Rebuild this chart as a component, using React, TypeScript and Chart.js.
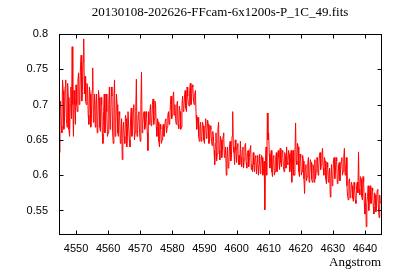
import React, { useEffect, useRef } from "react";
import { Chart, registerables } from "chart.js";

Chart.register(...registerables);

const titleText = "20130108-202626-FFcam-6x1200s-P_1C_49.fits";
const xLabel = "Angstrom";

// wavelength sampling of the spectrum (Angstrom)
const waveStart = 4544.8;
const waveStep = 0.2;

// normalised flux at even samples
const fluxEven: number[] = [
  0.632, 0.705, 0.66, 0.72, 0.675, 0.735, 0.668, 0.71, 0.655, 0.725,
  0.782, 0.655, 0.70, 0.728, 0.69, 0.745, 0.715, 0.77, 0.72, 0.793,
  0.74, 0.70, 0.725, 0.672, 0.715, 0.68, 0.752, 0.69, 0.668, 0.715,
  0.675, 0.71, 0.662, 0.70, 0.645, 0.715, 0.67, 0.69, 0.66, 0.725,
  0.68, 0.712, 0.645, 0.735, 0.67, 0.70, 0.655, 0.685, 0.652, 0.622,
  0.675, 0.645, 0.68, 0.655, 0.69, 0.64, 0.695, 0.662, 0.70, 0.66,
  0.736, 0.665, 0.69, 0.648, 0.746, 0.672, 0.69, 0.668, 0.682, 0.635,
  0.672, 0.70, 0.675, 0.708, 0.68, 0.698, 0.655, 0.675, 0.64, 0.665,
  0.65, 0.672, 0.662, 0.68, 0.668, 0.69, 0.678, 0.712, 0.685, 0.718,
  0.70, 0.672, 0.705, 0.666, 0.69, 0.668, 0.712, 0.695, 0.72, 0.69,
  0.712, 0.698, 0.73, 0.705, 0.725, 0.70, 0.72, 0.665, 0.682, 0.648,
  0.675, 0.655, 0.67, 0.645, 0.68, 0.66, 0.672, 0.648, 0.665, 0.642,
  0.655, 0.615, 0.66, 0.63, 0.675, 0.622, 0.65, 0.635, 0.66, 0.628,
  0.60, 0.64, 0.615, 0.648, 0.625, 0.69, 0.632, 0.65, 0.618, 0.645,
  0.628, 0.648, 0.612, 0.64, 0.622, 0.645, 0.61, 0.635, 0.625, 0.642,
  0.615, 0.632, 0.605, 0.628, 0.618, 0.60, 0.63, 0.61, 0.625, 0.605,
  0.551, 0.64, 0.688, 0.66, 0.61, 0.635, 0.598, 0.628, 0.605, 0.632,
  0.61, 0.625, 0.638, 0.612, 0.632, 0.605, 0.628, 0.64, 0.615, 0.63,
  0.62, 0.59, 0.635, 0.60, 0.674, 0.615, 0.64, 0.598, 0.625, 0.605,
  0.62, 0.574, 0.615, 0.598, 0.625, 0.60, 0.618, 0.59, 0.612, 0.622,
  0.605, 0.625, 0.61, 0.632, 0.615, 0.638, 0.60, 0.62, 0.588, 0.612,
  0.60, 0.569, 0.615, 0.595, 0.625, 0.605, 0.62, 0.59, 0.618, 0.608,
  0.625, 0.605, 0.638, 0.61, 0.585, 0.565, 0.595, 0.572, 0.585, 0.563,
  0.58, 0.56, 0.59, 0.633, 0.572, 0.595, 0.565, 0.59, 0.545, 0.527,
  0.57, 0.55, 0.585, 0.56, 0.578, 0.545, 0.572, 0.555, 0.58, 0.54, 0.56,
];

// normalised flux at odd samples (between the even ones)
const fluxOdd: number[] = [
  0.69, 0.67, 0.735, 0.665, 0.725, 0.68, 0.73, 0.665, 0.70, 0.68,
  0.70, 0.72, 0.672, 0.70, 0.735, 0.70, 0.755, 0.705, 0.76, 0.715,
  0.705, 0.73, 0.685, 0.725, 0.668, 0.72, 0.675, 0.715, 0.70, 0.66,
  0.72, 0.668, 0.71, 0.658, 0.69, 0.66, 0.715, 0.655, 0.70, 0.665,
  0.725, 0.66, 0.71, 0.655, 0.715, 0.66, 0.69, 0.645, 0.68, 0.66,
  0.655, 0.685, 0.64, 0.69, 0.65, 0.68, 0.655, 0.69, 0.65, 0.69,
  0.655, 0.685, 0.66, 0.70, 0.66, 0.685, 0.665, 0.69, 0.66, 0.69,
  0.69, 0.67, 0.70, 0.672, 0.705, 0.668, 0.68, 0.648, 0.672, 0.645,
  0.668, 0.655, 0.678, 0.66, 0.685, 0.672, 0.70, 0.68, 0.71, 0.685,
  0.68, 0.70, 0.672, 0.698, 0.665, 0.70, 0.69, 0.712, 0.695, 0.725,
  0.70, 0.72, 0.70, 0.728, 0.705, 0.715, 0.685, 0.678, 0.655, 0.668,
  0.648, 0.675, 0.65, 0.67, 0.652, 0.678, 0.645, 0.67, 0.648, 0.662,
  0.635, 0.645, 0.62, 0.665, 0.635, 0.655, 0.625, 0.655, 0.625, 0.64,
  0.625, 0.61, 0.64, 0.62, 0.655, 0.64, 0.615, 0.635, 0.64, 0.615,
  0.615, 0.625, 0.635, 0.61, 0.642, 0.618, 0.632, 0.612, 0.638, 0.608,
  0.605, 0.615, 0.625, 0.602, 0.628, 0.615, 0.602, 0.628, 0.60, 0.62,
  0.62, 0.60, 0.65, 0.63, 0.625, 0.605, 0.625, 0.60, 0.625, 0.605,
  0.635, 0.608, 0.618, 0.635, 0.612, 0.632, 0.61, 0.618, 0.635, 0.605,
  0.635, 0.615, 0.60, 0.632, 0.62, 0.645, 0.605, 0.63, 0.60, 0.628,
  0.595, 0.61, 0.592, 0.618, 0.59, 0.622, 0.595, 0.615, 0.59, 0.595,
  0.625, 0.60, 0.628, 0.608, 0.63, 0.61, 0.625, 0.595, 0.618, 0.59,
  0.61, 0.595, 0.585, 0.622, 0.595, 0.625, 0.588, 0.615, 0.592, 0.62,
  0.60, 0.625, 0.60, 0.625, 0.57, 0.592, 0.568, 0.59, 0.568, 0.59,
  0.565, 0.585, 0.575, 0.58, 0.598, 0.57, 0.598, 0.56, 0.575, 0.56,
  0.585, 0.57, 0.56, 0.582, 0.555, 0.575, 0.548, 0.578, 0.555, 0.572,
];

const xTicks = [4550, 4560, 4570, 4580, 4590, 4600, 4610, 4620, 4630, 4640];
const yTicks = [0.55, 0.6, 0.65, 0.7, 0.75, 0.8];
const xMin = 4544.7;
const xMax = 4645.0;
const yMin = 0.5167;
const yMax = 0.8;

const frameTicks = {
  id: "frameTicks",
  afterDraw(chart: any) {
    const { ctx, chartArea: a, scales } = chart;
    const L = 4;
    const left = Math.floor(a.left) + 0.5;
    const right = Math.floor(a.right) + 0.5;
    const top = Math.floor(a.top) + 0.5;
    const bottom = Math.floor(a.bottom) + 0.5;
    ctx.save();
    ctx.strokeStyle = "#000";
    ctx.lineWidth = 1;
    ctx.beginPath();
    scales.x.ticks.forEach((t: any) => {
      const px = Math.round(scales.x.getPixelForValue(t.value)) + 0.5;
      ctx.moveTo(px, bottom);
      ctx.lineTo(px, bottom - L);
      ctx.moveTo(px, top);
      ctx.lineTo(px, top + L);
    });
    scales.y.ticks.forEach((t: any) => {
      const py = Math.round(scales.y.getPixelForValue(t.value)) + 0.5;
      ctx.moveTo(left, py);
      ctx.lineTo(left + L, py);
      ctx.moveTo(right, py);
      ctx.lineTo(right - L, py);
    });
    ctx.stroke();
    ctx.strokeRect(left, top, right - left, bottom - top);
    ctx.restore();
  },
};

export default function App() {
  const ref = useRef<HTMLCanvasElement>(null);

  useEffect(() => {
    document.body.style.margin = "0";
    const canvas = ref.current;
    if (!canvas) return;
    Chart.defaults.color = "#000";
    const points: { x: number; y: number }[] = [];
    fluxEven.forEach((y, i) => {
      points.push({ x: waveStart + 2 * i * waveStep, y });
      if (i < fluxOdd.length) {
        points.push({ x: waveStart + (2 * i + 1) * waveStep, y: fluxOdd[i] });
      }
    });
    const chart = new Chart(canvas, {
      type: "line",
      data: {
        datasets: [
          {
            data: points,
            borderColor: "#ff0000",
            borderWidth: 1,
            pointRadius: 0,
            tension: 0,
            fill: false,
          },
        ],
      },
      options: {
        animation: false,
        responsive: false,
        devicePixelRatio: 1,
        parsing: false,
        layout: { padding: { left: 0, right: 19, top: 0, bottom: 0 } },
        plugins: {
          legend: { display: false },
          tooltip: { enabled: false },
          title: {
            display: true,
            text: titleText,
            fullSize: false,
            color: "#000",
            font: { family: "Liberation Serif", size: 13, weight: "normal", lineHeight: 1.2 },
            padding: { top: 5, bottom: 13.4 },
          },
        },
        scales: {
          x: {
            type: "linear",
            min: xMin,
            max: xMax,
            afterFit: (s: any) => {
              s.height = 46;
            },
            afterBuildTicks: (s: any) => {
              s.ticks = xTicks.map((v) => ({ value: v }));
            },
            grid: { display: false, drawTicks: false },
            border: { display: false },
            ticks: {
              padding: 8,
              maxRotation: 0,
              autoSkip: false,
              color: "#000",
              font: { family: "Liberation Sans", size: 11 },
              callback: (v: any) => String(v),
            },
            title: {
              display: true,
              text: xLabel,
              align: "end",
              color: "#000",
              font: { family: "Liberation Serif", size: 13, lineHeight: 1.2 },
              padding: { top: 0, bottom: 10 },
            },
          },
          y: {
            type: "linear",
            min: yMin,
            max: yMax,
            afterFit: (s: any) => {
              s.width = 59;
            },
            afterBuildTicks: (s: any) => {
              s.ticks = yTicks.map((v) => ({ value: v }));
            },
            grid: { display: false, drawTicks: false },
            border: { display: false },
            ticks: {
              padding: 11,
              autoSkip: false,
              color: "#000",
              font: { family: "Liberation Sans", size: 11 },
              callback: (v: any) => String(Number(Number(v).toFixed(2))),
            },
          },
        },
      },
      plugins: [frameTicks],
    });
    return () => chart.destroy();
  }, []);

  return <canvas ref={ref} width={400} height={280} style={{ display: "block" }} />;
}
